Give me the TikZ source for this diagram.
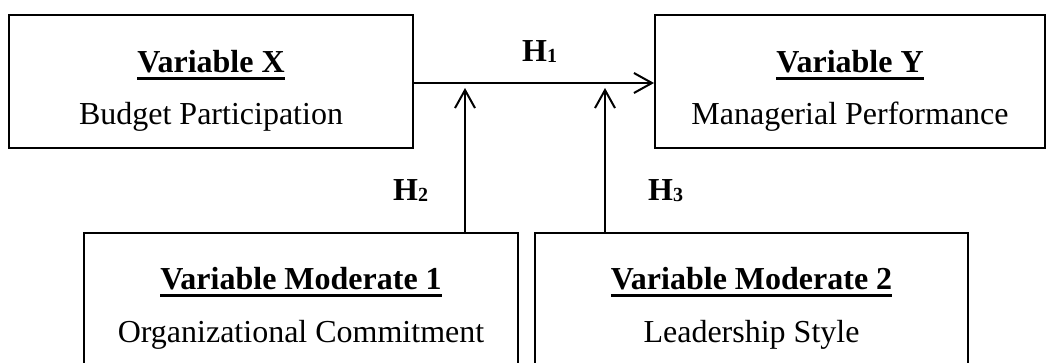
\documentclass[tikz,border=0pt]{standalone}
\usepackage{fontspec}
\setmainfont{Liberation Serif}
\usetikzlibrary{arrows.meta}
\newcommand\ulbold[1]{\setbox0=\hbox{\bfseries #1}\rlap{\raisebox{-7.5pt}{\rule{\wd0}{3pt}}}\box0}
\newcommand\hyp[1]{\textbf{H}\raisebox{-1pt}{\fontsize{20pt}{22pt}\selectfont\textbf{#1}}}
\tikzset{
  box/.style={draw, line width=2pt, rectangle, inner sep=0pt},
  txt/.style={anchor=base, inner sep=0pt, font=\fontsize{32pt}{38pt}\selectfont},
  lab/.style={anchor=base west, inner sep=0pt, font=\fontsize{32pt}{38pt}\selectfont},
  arr/.style={line width=2pt, -{Straight Barb[length=18pt,width=20pt,line width=2pt]}}
}
\begin{document}
\begin{tikzpicture}[x=1pt,y=-1pt]
\clip (0,0) rectangle (1046,362);
\useasboundingbox (0,0) rectangle (1046,362);
% boxes
\node[box, minimum width=404pt, minimum height=133pt] (X) at (211,81.5) {};
\node[box, minimum width=390pt, minimum height=133pt] (Y) at (850,81.5) {};
\node[box, minimum width=434pt, minimum height=160pt] (M1) at (301,313) {};
\node[box, minimum width=433pt, minimum height=160pt] (M2) at (751.5,313) {};
% texts
\node[txt] (xt1) at (211,72) {\ulbold{Variable X}};
\node[txt] (xt2) at (211,124) {Budget Participation};
\node[txt] (yt1) at (850,72) {\ulbold{Variable Y}};
\node[txt] (yt2) at (850,124) {Managerial Performance};
\node[txt] (m1t1) at (301,289) {\ulbold{Variable Moderate 1}};
\node[txt] (m1t2) at (301,342) {Organizational Commitment};
\node[txt] (m2t1) at (751.5,289) {\ulbold{Variable Moderate 2}};
\node[txt] (m2t2) at (751.5,342) {Leadership Style};
% labels
\node[lab] (h1) at (522,61) {\hyp{1}};
\node[lab] (h2) at (393,200) {\hyp{2}};
\node[lab] (h3) at (648,200) {\hyp{3}};
% connectors
\coordinate (p2) at (465,88);
\coordinate (p3) at (605,88);
\draw[arr] (X.east |- 0,83) -- (Y.west |- 0,83);
\draw[arr] (M1.north -| p2) -- (p2);
\draw[arr] (M2.north -| p3) -- (p3);
\end{tikzpicture}
\end{document}
